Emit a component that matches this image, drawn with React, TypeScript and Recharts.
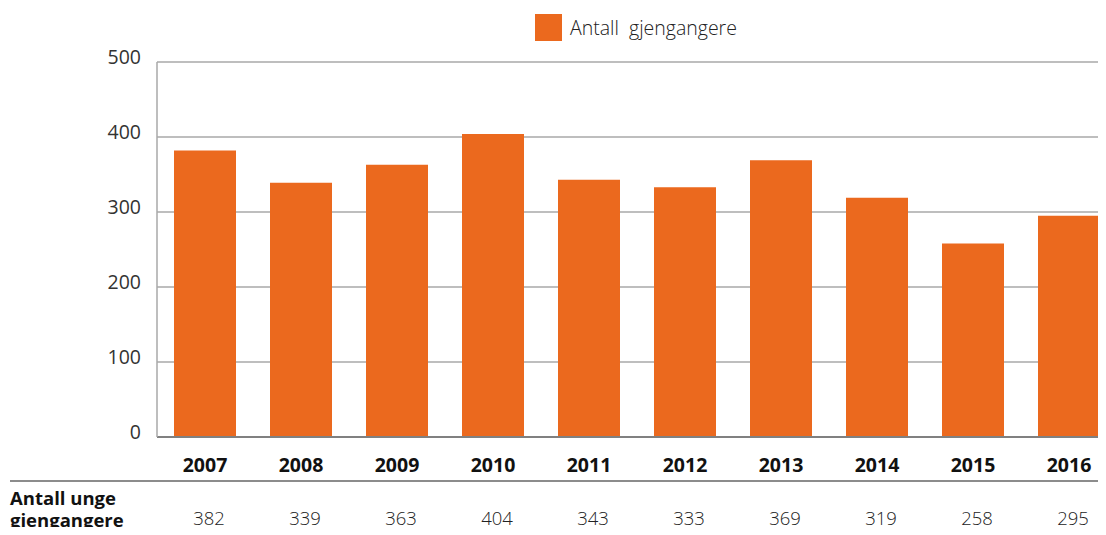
import { BarChart, Bar, XAxis, YAxis, CartesianGrid, Legend } from "recharts";

const years = ["2007", "2008", "2009", "2010", "2011", "2012", "2013", "2014", "2015", "2016"];
const repeaters = [382, 339, 363, 404, 343, 333, 369, 319, 258, 295];
const yTicks = [0, 100, 200, 300, 400, 500];
const seriesName = "Antall  gjengangere";
const rowLabel = ["Antall unge", "gjengangere"];

const ORANGE = "#EB691E";
const FONT = "'Open Sans', 'Noto Sans', sans-serif";

const data = years.map((year, i) => ({ year, value: repeaters[i] }));

function YearTick({ x, y, payload, index }: any) {
  return (
    <g>
      <text
        x={x}
        y={y + 27}
        textAnchor="middle"
        dominantBaseline="central"
        fontFamily={FONT}
        fontWeight={700}
        fontSize={19.5}
        fill="#111"
      >
        {payload.value}
      </text>
      <text
        x={x + 4}
        y={y + 80}
        textAnchor="middle"
        dominantBaseline="central"
        fontFamily={FONT}
        fontWeight={300}
        fontSize={18.5}
        fill="#222"
      >
        {repeaters[index]}
      </text>
    </g>
  );
}

function LegendBox() {
  return (
    <div style={{ display: "flex", alignItems: "center", fontFamily: FONT }}>
      <span style={{ width: 27, height: 27, background: ORANGE, display: "inline-block" }} />
      <span style={{ marginLeft: 8, fontSize: 19.5, fontWeight: 300, color: "#222", whiteSpace: "pre" }}>
        {seriesName}
      </span>
    </div>
  );
}

export default function App() {
  return (
    <div style={{ position: "relative", margin: -8, width: 1106, height: 535, overflow: "hidden", background: "#fff" }}>
      <BarChart width={1117} height={535} data={data} margin={{ top: 62, right: 0, bottom: 0, left: 0 }} barSize={62}>
        <CartesianGrid vertical={false} stroke="#a8a8a8" strokeWidth={1.5} />
        <XAxis
          dataKey="year"
          height={98}
          tickLine={false}
          tickSize={0}
          tickMargin={0}
          axisLine={{ stroke: "#808080", strokeWidth: 2 }}
          tick={<YearTick />}
          interval={0}
        />
        <YAxis
          width={157}
          domain={[0, 500]}
          ticks={yTicks}
          tickLine={false}
          tickSize={0}
          tickMargin={16}
          axisLine={{ stroke: "#a8a8a8", strokeWidth: 1.5 }}
          tick={{ fontFamily: FONT, fontSize: 19.5, fontWeight: 400, fill: "#333", dy: -5 }}
        />
        <Legend
          layout="horizontal"
          verticalAlign="middle"
          align="center"
          wrapperStyle={{ top: 14, left: 535, width: "auto" }}
          content={<LegendBox />}
        />
        <Bar dataKey="value" name={seriesName} fill={ORANGE} isAnimationActive={false} />
      </BarChart>
      <div style={{ position: "absolute", left: 10, top: 480, width: 1096, borderTop: "2px solid #8c8c8c" }} />
      <div
        style={{
          position: "absolute",
          left: 10,
          top: 487,
          fontFamily: FONT,
          fontWeight: 700,
          fontSize: 18.5,
          lineHeight: "22px",
          color: "#111",
        }}
      >
        {rowLabel.map((t) => (
          <div key={t}>{t}</div>
        ))}
      </div>
    </div>
  );
}
